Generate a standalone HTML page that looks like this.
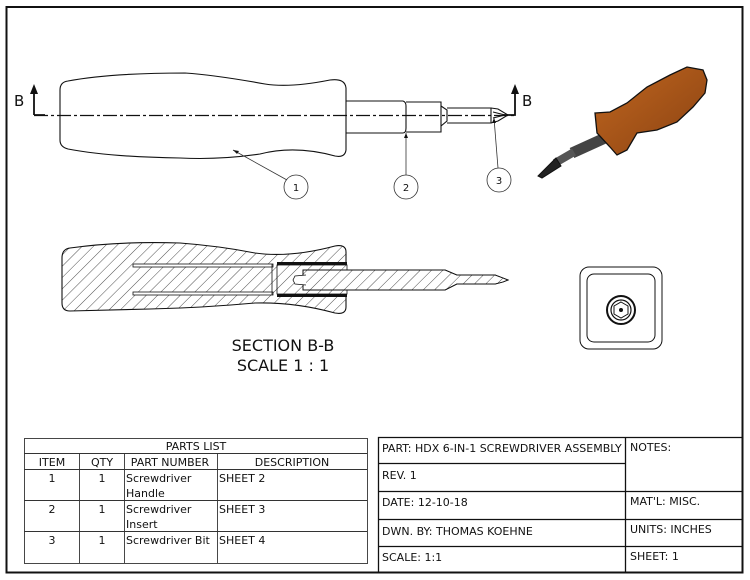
<!DOCTYPE html>
<html><head><style>
html,body{margin:0;padding:0;background:#fff;}
svg{display:block;}
text{font-family:"DejaVu Sans","Liberation Sans",sans-serif;fill:#111;}
</style></head><body>
<svg width="750" height="580" viewBox="0 0 750 580" xmlns="http://www.w3.org/2000/svg">
<defs>
<pattern id="h" width="8" height="8" patternUnits="userSpaceOnUse" patternTransform="rotate(45)">
<line x1="0" y1="0" x2="0" y2="8" stroke="#222" stroke-width="0.8"/>
</pattern>
<linearGradient id="og" x1="0" y1="0" x2="1" y2="1">
<stop offset="0" stop-color="#c0661f"/><stop offset="1" stop-color="#8a4212"/>
</linearGradient>
</defs>
<rect x="6.5" y="7" width="736" height="565.5" fill="none" stroke="#111" stroke-width="2"/>

<!-- top view -->
<g fill="none" stroke="#111" stroke-width="1.1">
<path d="M68,81 Q110,73 185,73 Q215,75 265,84 Q290,88 330,80 Q345,78 346,88 L346,150 Q345,158 335,156 Q295,145 260,154 Q220,160 180,158 Q110,157 68,149 Q60,147 60,140 L60,90 Q60,82 68,81 Z"/>
<path d="M346,101 L403,101 Q406,102 406,106 L406,128 Q406,133 403,133 L346,133"/>
<path d="M406,102 L441,102 L441,132 L406,132"/>
<path d="M441,106 L447,110 L447,121 L441,126"/>
<path d="M447,108 L491,108 L491,123 L447,123"/>
<path d="M491,108 L498,109 L508,115 L498,121 L491,123 M493,112 L505,115 L493,118"/>
</g>
<line x1="34" y1="115.5" x2="514" y2="115.5" stroke="#111" stroke-width="1.2" stroke-dasharray="14,3,3,3"/>
<g stroke="#111" stroke-width="1.8" fill="none"><path d="M34,115 L45,115 M34,115 L34,92"/><path d="M503,115 L515,115 L515,92"/></g>
<path d="M34,84 L30,94 L38,94 Z M515,84 L511,94 L519,94 Z" fill="#111"/>
<text x="14" y="106" font-size="15">B</text>
<text x="522" y="106" font-size="15">B</text>
<g stroke="#333" stroke-width="0.8" fill="none">
<line x1="233" y1="150" x2="287" y2="180"/><circle cx="296" cy="187" r="12"/>
<line x1="406" y1="133" x2="406" y2="175"/><circle cx="406" cy="187" r="12"/>
<line x1="494" y1="118" x2="498" y2="168"/><circle cx="499" cy="180" r="12"/>
</g>
<path d="M233,150 l6,1 l-2,3 Z M406,133 l-2,5 l4,0 Z M494,118 l-2,5 l4,0 Z" fill="#111"/>
<text x="296" y="191" font-size="10" text-anchor="middle">1</text>
<text x="406" y="191" font-size="10" text-anchor="middle">2</text>
<text x="499" y="184" font-size="10" text-anchor="middle">3</text>

<!-- section -->
<path d="M70,248 Q120,241 180,243 Q220,246 255,253 Q290,258 335,246 Q346,244 346,252 L346,307 Q346,315 335,313 Q295,302 255,303 Q200,308 150,309 Q110,310 70,311 Q62,311 62,303 L62,258 Q62,249 70,248 Z" fill="url(#h)" stroke="#111" stroke-width="1.1"/>
<rect x="133" y="264" width="140" height="3" fill="#fff" stroke="#111" stroke-width="0.8"/>
<rect x="133" y="292" width="140" height="3" fill="#fff" stroke="#111" stroke-width="0.8"/>
<line x1="272" y1="264" x2="272" y2="295" stroke="#111" stroke-width="0.8"/>
<rect x="277" y="262" width="70" height="35" fill="#111"/>
<rect x="277" y="265" width="70" height="29" fill="#fff"/>
<rect x="277" y="265" width="70" height="29" fill="url(#h)" stroke="#111" stroke-width="0.8"/>
<path d="M303,270 L445,270 L457,275 L495,275 L503,278 L508,280 L503,282 L495,284 L457,284 L445,290 L303,290 Z" fill="#fff" stroke="#111" stroke-width="0.9"/>
<path d="M303,270 L445,270 L457,275 L495,275 L503,278 L508,280 L503,282 L495,284 L457,284 L445,290 L303,290 Z" fill="url(#h)" stroke="#111" stroke-width="0.9"/>
<path d="M306,275 L295,276 L293,280 L295,284 L306,285" fill="#fff" stroke="#111" stroke-width="0.8"/>
<text x="283" y="351" font-size="16" text-anchor="middle">SECTION B-B</text>
<text x="283" y="371" font-size="16" text-anchor="middle">SCALE 1 : 1</text>

<!-- 3D -->
<g stroke="#111" stroke-width="1">
<line x1="605" y1="138" x2="572" y2="153" stroke="#444" stroke-width="11"/>
<line x1="574" y1="152" x2="555" y2="163" stroke="#555" stroke-width="8"/>
<path d="M556,158 L538,176 L542,178 L561,166 Z" fill="#222"/>
<path d="M595,113 L610,112 L627,103 L647,87 L670,75 L687,67 L703,70 L707,80 L705,93 L693,107 L677,122 L657,130 L637,133 L627,150 L617,155 L610,147 L597,133 Z" fill="url(#og)" stroke-width="1.3"/>
</g>

<!-- end view -->
<rect x="580" y="267" width="82" height="82" rx="9" fill="none" stroke="#111" stroke-width="1"/>
<rect x="587" y="274" width="68" height="68" rx="7" fill="none" stroke="#111" stroke-width="1"/>
<circle cx="621" cy="310" r="14" fill="none" stroke="#111" stroke-width="2"/>
<circle cx="621" cy="310" r="10" fill="none" stroke="#111" stroke-width="1.2"/>
<polygon points="621,302 628,306 628,314 621,318 614,314 614,306" fill="none" stroke="#111" stroke-width="1"/>
<circle cx="621" cy="310" r="2" fill="#111"/>

<!-- parts list -->
<g stroke="#333" stroke-width="0.9" fill="none">
<rect x="24.5" y="438.5" width="343" height="125"/>
<line x1="24" y1="453.5" x2="367" y2="453.5"/>
<line x1="24" y1="469.5" x2="367" y2="469.5"/>
<line x1="24" y1="500.5" x2="367" y2="500.5"/>
<line x1="24" y1="531.5" x2="367" y2="531.5"/>
<line x1="79.5" y1="453" x2="79.5" y2="563"/>
<line x1="124.5" y1="453" x2="124.5" y2="563"/>
<line x1="217.5" y1="453" x2="217.5" y2="563"/>
</g>
<g font-size="11">
<text x="196" y="450" text-anchor="middle">PARTS LIST</text>
<text x="52" y="466" text-anchor="middle">ITEM</text>
<text x="102" y="466" text-anchor="middle">QTY</text>
<text x="170" y="466" text-anchor="middle">PART NUMBER</text>
<text x="292" y="466" text-anchor="middle">DESCRIPTION</text>
<text x="52" y="482" text-anchor="middle">1</text><text x="102" y="482" text-anchor="middle">1</text>
<text x="126" y="482">Screwdriver</text><text x="126" y="497">Handle</text><text x="219" y="482">SHEET 2</text>
<text x="52" y="513" text-anchor="middle">2</text><text x="102" y="513" text-anchor="middle">1</text>
<text x="126" y="513">Screwdriver</text><text x="126" y="528">Insert</text><text x="219" y="513">SHEET 3</text>
<text x="52" y="544" text-anchor="middle">3</text><text x="102" y="544" text-anchor="middle">1</text>
<text x="126" y="544">Screwdriver Bit</text><text x="219" y="544">SHEET 4</text>
</g>

<!-- title block -->
<g stroke="#111" stroke-width="1.3" fill="none">
<path d="M378.5,572 L378.5,437.5 L742,437.5"/>
<line x1="625.5" y1="437" x2="625.5" y2="572"/>
<line x1="378" y1="463.5" x2="625" y2="463.5"/>
<line x1="378" y1="491.5" x2="742" y2="491.5"/>
<line x1="378" y1="519.5" x2="742" y2="519.5"/>
<line x1="378" y1="546.5" x2="742" y2="546.5"/>
</g>
<g font-size="11">
<text x="382" y="452">PART: HDX 6-IN-1 SCREWDRIVER ASSEMBLY</text>
<text x="382" y="479">REV. 1</text>
<text x="382" y="506">DATE: 12-10-18</text>
<text x="382" y="535">DWN. BY: THOMAS KOEHNE</text>
<text x="382" y="561">SCALE: 1:1</text>
<text x="630" y="451">NOTES:</text>
<text x="630" y="505">MAT'L: MISC.</text>
<text x="630" y="533">UNITS: INCHES</text>
<text x="630" y="560">SHEET: 1</text>
</g>
</svg>
</body></html>
